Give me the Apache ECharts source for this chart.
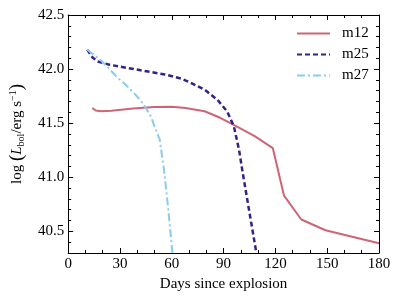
<!DOCTYPE html>
<html>
<head>
<meta charset="utf-8">
<script src="https://cdn.jsdelivr.net/npm/echarts@6/dist/echarts.min.js"></script>
<style>html,body{margin:0;padding:0;background:#fff}#c{width:399px;height:299px}</style>
</head>
<body>
<div id="c"></div>
<script>
const names = ['m12', 'm25', 'm27'];
const m12X = [14, 16, 19, 25, 37.6, 50, 60, 68, 79, 88, 94, 108, 118.5, 125, 135, 149, 180];
const m12Y = [41.64, 41.617, 41.61, 41.615, 41.635, 41.65, 41.652, 41.64, 41.61, 41.55, 41.5, 41.38, 41.27, 40.83, 40.61, 40.51, 40.39];
const m25X = [11, 14, 17, 24, 38, 56, 66, 70, 79, 86.5, 92, 96, 99, 101.2, 109];
const m25Y = [42.18, 42.11, 42.07, 42.04, 42.0, 41.95, 41.91, 41.88, 41.81, 41.715, 41.61, 41.47, 41.25, 41.03, 40.30];
const m27X = [11, 15, 19, 24, 28, 33, 38, 42, 45, 48, 50, 53, 55.5, 58, 60.4];
const m27Y = [42.18, 42.13, 42.08, 42.00, 41.93, 41.86, 41.78, 41.71, 41.64, 41.56, 41.47, 41.35, 41.07, 40.70, 40.3];
const yMajorTicks = [40.5, 41.0, 41.5, 42.0, 42.5];
const yMinorTicks = [40.3, 40.4, 40.6, 40.7, 40.8, 40.9, 41.1, 41.2, 41.3, 41.4, 41.6, 41.7, 41.8, 41.9, 42.1, 42.2, 42.3, 42.4];
const colors = ['#CC6677', '#332288', '#88CCEE'];

const FONT = 'Liberation Serif';
const pair = (xs, ys) => xs.map((x, i) => [x, ys[i]]);

const xBase = (pos, labels) => ({
  type: 'value', position: pos, min: 0, max: 180, interval: 30,
  axisLine: { show: true, onZero: false, lineStyle: { color: '#000', width: 1 } },
  axisTick: { show: true, inside: true, length: 5, lineStyle: { color: '#000' } },
  minorTick: { show: true, splitNumber: 3, length: 3, lineStyle: { color: '#000' } },
  axisLabel: { show: labels, fontFamily: FONT, fontSize: 15, color: '#000', margin: 4 },
  splitLine: { show: false }, minorSplitLine: { show: false }
});
const yBase = (pos, ticks, len, labels, line) => ({
  type: 'value', position: pos, min: 40.3, max: 42.5,
  axisLine: { show: line, onZero: false, lineStyle: { color: '#000', width: 1 } },
  axisTick: { show: true, inside: true, length: len, customValues: ticks, lineStyle: { color: '#000' } },
  axisLabel: { show: labels, customValues: ticks, fontFamily: FONT, fontSize: 15, color: '#000', margin: 4,
    formatter: v => v.toFixed(1) },
  splitLine: { show: false }
});

const x0 = xBase('bottom', true);
x0.name = 'Days since explosion';
x0.nameLocation = 'middle';
x0.nameGap = 22;
x0.nameTextStyle = { fontFamily: FONT, fontSize: 15, color: '#000' };

const y0 = yBase('left', yMajorTicks, 5, true, true);
y0.name = '{r|log }{p|(}{i|L}{s|bol}{r|/erg s}{u|−1}{p|)}';
y0.nameLocation = 'middle';
y0.nameRotate = 90;
y0.nameGap = 40;
y0.nameTextStyle = {
  fontFamily: FONT, fontSize: 15, color: '#000',
  rich: {
    r: { fontFamily: FONT, fontSize: 15, lineHeight: 18, color: '#000', verticalAlign: 'middle' },
    p: { fontFamily: FONT, fontSize: 19, lineHeight: 18, color: '#000', verticalAlign: 'middle' },
    i: { fontFamily: FONT, fontSize: 15, fontStyle: 'italic', lineHeight: 18, color: '#000', verticalAlign: 'middle' },
    s: { fontFamily: FONT, fontSize: 10, lineHeight: 10, color: '#000', verticalAlign: 'bottom' },
    u: { fontFamily: FONT, fontSize: 10, lineHeight: 10, color: '#000', verticalAlign: 'top' }
  }
};

const lineStyles = [
  { color: colors[0], width: 2, type: 'solid' },
  { color: colors[1], width: 2.5, type: [5, 3] },
  { color: colors[2], width: 2, type: [8, 3, 2, 3] }
];
const datas = [pair(m12X, m12Y), pair(m25X, m25Y), pair(m27X, m27Y)];

const option = {
  animation: false,
  grid: { left: 60, right: 20, top: 15, bottom: 46 },
  legend: {
    orient: 'vertical', left: 296, top: 26, padding: 0,
    itemWidth: 33, itemHeight: 14, itemGap: 6,
    itemStyle: { opacity: 0 },
    textStyle: { fontFamily: FONT, fontSize: 15, color: '#000', padding: [0, 0, 0, 7] },
    data: names
  },
  xAxis: [x0, xBase('top', false)],
  yAxis: [
    y0,
    yBase('left', yMinorTicks, 3, false, false),
    yBase('right', yMajorTicks, 5, false, true),
    yBase('right', yMinorTicks, 3, false, false)
  ],
  series: names.map((n, i) => ({
    name: n, type: 'line', data: datas[i], symbol: 'none', smooth: false,
    xAxisIndex: 0, yAxisIndex: 0,
    color: colors[i], lineStyle: lineStyles[i]
  }))
};
echarts.init(document.getElementById('c')).setOption(option);
</script>
</body>
</html>
